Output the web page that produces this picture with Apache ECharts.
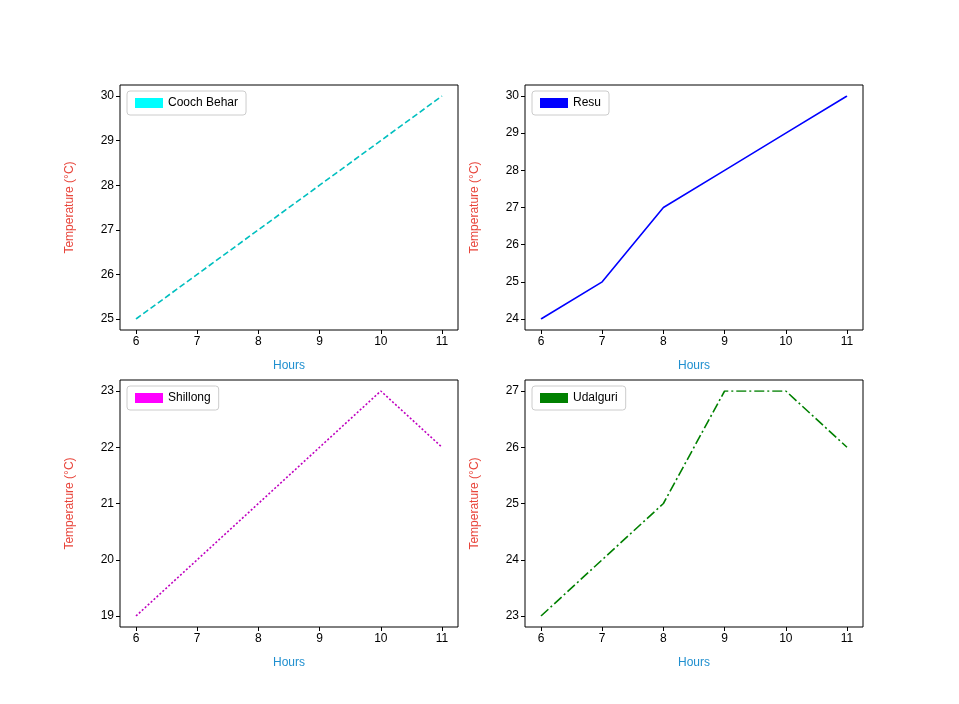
<!DOCTYPE html><html><head><meta charset="utf-8">
<script src="https://cdn.jsdelivr.net/npm/echarts@6/dist/echarts.min.js"></script>
<style>body{margin:0}#c{width:959px;height:704px}</style></head><body><div id="c"></div>
<script>
const hours=[6,7,8,9,10,11];
const coochBehar=[25,26,27,28,29,30];
const resu=[24,25,27,28,29,30];
const shillong=[19,20,21,22,23,22];
const udalguri=[23,24,25,27,27,26];
const names=['Cooch Behar','Resu','Shillong','Udalguri'];
const colors=['#00bfbf','#0000ff','#bf00bf','#008000'];
const legendColors=['#00ffff','#0000ff','#ff00ff','#008000'];
const dashes=[[6,3],'solid',[2,2],[10,3,2,3]];
const datas=[coochBehar,resu,shillong,udalguri];
const yr=[[25,30],[24,30],[19,23],[23,27]];
const L=[120,525],R=[501,96],T=[85,380],B=[374,77];
const grid=[],xAxis=[],yAxis=[],series=[],legend=[];
for(let i=0;i<4;i++){
 const c=i%2,r=Math.floor(i/2);
 grid.push({left:L[c],right:R[c],top:T[r],bottom:B[r],show:true,borderColor:'#000',borderWidth:1,backgroundColor:'transparent'});
 grid.push({left:L[c]+16,right:R[c]+16,top:T[r]+11,bottom:B[r]+11});
 xAxis.push({gridIndex:2*i,show:false,type:'value',min:0,max:1});
 yAxis.push({gridIndex:2*i,show:false,type:'value',min:0,max:1});
 xAxis.push({gridIndex:2*i+1,type:'value',min:6,max:11,interval:1,offset:11,axisLine:{show:false},
  axisTick:{show:true,length:4,lineStyle:{color:'#000'}},splitLine:{show:false},
  axisLabel:{color:'#000',fontSize:12,margin:6},name:'Hours',nameLocation:'middle',nameGap:30,nameTextStyle:{color:'#1f8fcf',fontSize:12}});
 yAxis.push({gridIndex:2*i+1,type:'value',min:yr[i][0],max:yr[i][1],interval:1,offset:16,axisLine:{show:false},
  axisTick:{show:true,length:4,lineStyle:{color:'#000'}},splitLine:{show:false},
  axisLabel:{color:'#000',fontSize:12,margin:6},name:'Temperature (°C)',nameLocation:'middle',nameGap:44,nameTextStyle:{color:'#e8443a',fontSize:12}});
 series.push({name:names[i],type:'line',xAxisIndex:2*i+1,yAxisIndex:2*i+1,data:hours.map((h,k)=>[h,datas[i][k]]),
  showSymbol:false,color:legendColors[i],lineStyle:{color:colors[i],width:1.6,type:dashes[i]}});
 legend.push({data:[{name:names[i],icon:'rect',itemStyle:{color:legendColors[i]}}],left:L[c]+7,top:T[r]+6,itemWidth:28,itemHeight:10,
  borderColor:'#ccc',borderWidth:1,borderRadius:3,padding:[6,8],textStyle:{fontSize:12,color:'#000'}});
}
echarts.init(document.getElementById('c')).setOption({animation:false,grid,xAxis,yAxis,series,legend});
</script></body></html>
